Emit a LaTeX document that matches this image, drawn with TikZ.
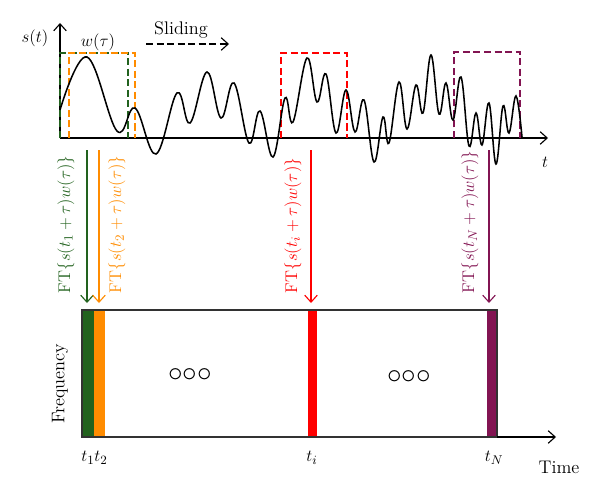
\documentclass[tikz,border=0pt]{standalone}
\usepackage{tikz}
\usetikzlibrary{arrows.meta}
\definecolor{ftgreen}{RGB}{34,98,30}
\definecolor{ftorange}{RGB}{255,140,0}
\definecolor{ftred}{RGB}{255,0,0}
\definecolor{ftpurple}{RGB}{130,20,82}
\definecolor{boxgray}{RGB}{50,50,50}
\tikzset{>={Straight Barb[length=5pt,width=9pt]}}
\tikzset{window/.style={dash pattern=on 5pt off 2.5pt, thick},
         ftlabel/.style={rotate=90, anchor=west, font=\fontsize{12.5}{15}\selectfont},
         txt/.style={font=\fontsize{13}{15}\selectfont}}

\begin{document}
\begin{tikzpicture}[x=0.025cm, y=0.025cm]
	\useasboundingbox (0,0) rectangle (600,476);
	
	% signal axes
	\draw[->, thick] (60,338) -- (60,453) coordinate (s-top);
	\draw[->, thick] (60,338) -- (548,338) coordinate (s-end);
	\node[txt] (s-lab) at (35,438) {$s(t)$};
	\node[txt] (t-lab) at (545,314) {$t$};
	\node[txt] (w-lab) at (98,434) {$w(\tau)$};
	\node[txt] (slide) at (181,446) {Sliding};
	\coordinate (sl-a) at (146,432);
	\coordinate (sl-b) at (229,432);
	\draw[->, dash pattern=on 5pt off 2.5pt, thick] (sl-a) -- (sl-b);
	
	% sliding windows
	\draw[window, ftgreen] (60,338) -- (60,423) -- (128,423) -- (128,338);
	\draw[window, ftorange] (69,338) -- (69,423) -- (135,423) -- (135,338);
	\draw[window, ftred] (281,338) -- (281,423) -- (347,423) -- (347,338);
	\draw[window, ftpurple] (454,338) -- (454,424) -- (520,424) -- (520,338);
	
	% the signal
	\draw[line width=1.1pt, smooth, tension=0.65] plot coordinates {
		(60,366) (87,419) (117,345) (135,368) (156,322) (177,383) (190,353)
		(207,404) (221,358) (234,393) (249,333) (260,365) (273,319) (285,378)
		(293,354) (307,418) (317,374) (326,402) (336,343) (346,386) (355,344)
		(364,376) (374,314) (383,359) (389,333) (399,394) (407,347) (416,391)
		(423,363) (431,421) (439,362) (446,393) (453,356) (461,399) (469,330)
		(476,363) (482,331) (489,373) (496,312) (503,370) (509,343) (516,380)
		(522,339)};
	
	% FT arrows
	\coordinate (g-a) at (87,326);   \coordinate (g-b) at (87,173);
	\coordinate (o-a) at (99,326);   \coordinate (o-b) at (99,173);
	\coordinate (r-a) at (311,326);  \coordinate (r-b) at (311,173);
	\coordinate (p-a) at (489,326);  \coordinate (p-b) at (489,173);
	\draw[->, ftgreen, thick] (g-a) -- (g-b);
	\draw[->, ftorange, thick] (o-a) -- (o-b);
	\draw[->, ftred, thick] (r-a) -- (r-b);
	\draw[->, ftpurple, thick] (p-a) -- (p-b);
	\node[ftlabel, text=ftgreen] (ft-1) at (66,178) {$\mathrm{FT}\{s(t_1+\tau)w(\tau)\}$};
	\node[ftlabel, text=ftorange] (ft-2) at (117,178) {$\mathrm{FT}\{s(t_2+\tau)w(\tau)\}$};
	\node[ftlabel, text=ftred] (ft-i) at (293,178) {$\mathrm{FT}\{s(t_i+\tau)w(\tau)\}$};
	\node[ftlabel, text=ftpurple] (ft-N) at (470,178) {$\mathrm{FT}\{s(t_N+\tau)w(\tau)\}$};
	
	% time-frequency plane
	\fill[ftgreen] (82,39) rectangle (94,166);
	\fill[ftorange] (94,39) rectangle (105,166);
	\fill[ftred] (308,39) rectangle (317,166);
	\fill[ftpurple] (487,39) rectangle (497,166);
	\draw[boxgray, line width=1.2pt] (82,39) rectangle (497,166);
	\draw[->, thick] (497,39) -- (556,39) coordinate (time-end);
	\node[txt, rotate=90] (freq) at (60,92) {Frequency};
	\node[font=\huge] (dots-1) at (190,101) {$\circ\mkern-4mu\circ\mkern-4mu\circ$};
	\node[font=\huge] (dots-2) at (409,99) {$\circ\mkern-4mu\circ\mkern-4mu\circ$};
	\node[txt] (t-1) at (88,18) {$t_1$};
	\node[txt] (t-2) at (101,18) {$t_2$};
	\node[txt] (t-i) at (312,18) {$t_i$};
	\node[txt] (t-N) at (494,18) {$t_N$};
	\node[txt, inner sep=1pt] (time) at (559,9) {Time};
\end{tikzpicture}
\end{document}
